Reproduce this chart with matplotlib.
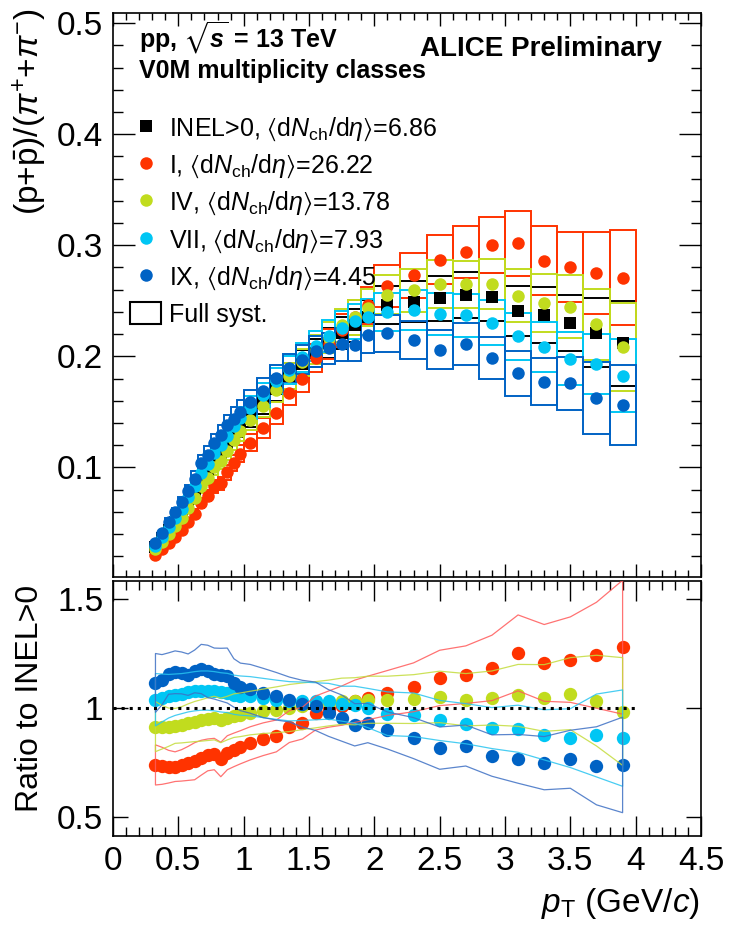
import numpy as np
import matplotlib
matplotlib.use('Agg')
import matplotlib.pyplot as plt
from matplotlib.patches import Rectangle
from matplotlib.ticker import MultipleLocator, NullLocator, FuncFormatter

plt.rcParams['font.family'] = ['Liberation Sans', 'DejaVu Sans']
plt.rcParams['mathtext.fontset'] = 'custom'
plt.rcParams['mathtext.rm'] = 'Liberation Sans'
plt.rcParams['mathtext.it'] = 'Liberation Sans:italic'
plt.rcParams['mathtext.bf'] = 'Liberation Sans:bold:italic'
plt.rcParams['mathtext.fallback'] = 'stixsans'

# pT binning (GeV/c)
pt_edges = np.array([0.30, 0.35, 0.40, 0.45, 0.50, 0.55, 0.60, 0.65, 0.70, 0.75,
                     0.80, 0.85, 0.90, 0.95, 1.00, 1.10, 1.20, 1.30, 1.40, 1.50,
                     1.60, 1.70, 1.80, 1.90, 2.00, 2.20, 2.40, 2.60, 2.80, 3.00,
                     3.20, 3.40, 3.60, 3.80, 4.00])

# (p+pbar)/(pi+ + pi-) for INEL>0
inel = [0.0285, 0.036, 0.0435, 0.051, 0.059, 0.068, 0.077, 0.088, 0.095, 0.105,
        0.112, 0.120, 0.129, 0.137, 0.146, 0.158, 0.171, 0.182, 0.193, 0.203,
        0.212, 0.221, 0.228, 0.235, 0.2462, 0.2492, 0.2523, 0.2552, 0.2537, 0.2408,
        0.2372, 0.2297, 0.2213, 0.2117]

# ratios to INEL>0 per V0M class
ratio_I = [0.739, 0.735, 0.731, 0.731, 0.737, 0.746, 0.756, 0.772, 0.785, 0.789,
           0.764, 0.795, 0.808, 0.820, 0.838, 0.857, 0.872, 0.915, 0.931, 0.977,
           0.995, 1.011, 1.031, 1.046, 1.069, 1.095, 1.138, 1.153, 1.184, 1.253,
           1.207, 1.222, 1.242, 1.279]
ratio_IV = [0.915, 0.912, 0.912, 0.918, 0.923, 0.931, 0.938, 0.943, 0.949, 0.954,
            0.943, 0.954, 0.965, 0.969, 0.977, 0.985, 0.992, 1.000, 1.008, 1.015,
            1.023, 1.031, 1.031, 1.038, 1.038, 1.041, 1.051, 1.038, 1.046, 1.058,
            1.046, 1.066, 1.034, 0.984]
ratio_VII = [1.038, 1.046, 1.054, 1.061, 1.066, 1.072, 1.077, 1.080, 1.080, 1.077,
             1.072, 1.069, 1.061, 1.057, 1.054, 1.046, 1.038, 1.031, 1.031, 1.031,
             1.031, 1.020, 1.015, 1.000, 0.974, 0.969, 0.943, 0.928, 0.908, 0.905,
             0.877, 0.862, 0.874, 0.862]
ratio_IX = [1.115, 1.130, 1.158, 1.164, 1.161, 1.153, 1.168, 1.179, 1.168, 1.158,
            1.153, 1.149, 1.115, 1.097, 1.088, 1.069, 1.054, 1.039, 1.020, 1.008,
            0.977, 0.954, 0.923, 0.931, 0.897, 0.862, 0.816, 0.828, 0.782, 0.767,
            0.747, 0.765, 0.735, 0.739]

# relative full systematics of the ratios (boxes, top panel)
sys_inel = [0.075, 0.072, 0.07, 0.07, 0.07, 0.07, 0.07, 0.07, 0.07, 0.07,
            0.07, 0.07, 0.068, 0.068, 0.066, 0.065, 0.065, 0.064, 0.064, 0.064,
            0.064, 0.065, 0.065, 0.066, 0.07, 0.075, 0.08, 0.08, 0.085, 0.095,
            0.105, 0.11, 0.14, 0.18]
sys_I = [0.075, 0.072, 0.07, 0.07, 0.07, 0.07, 0.07, 0.07, 0.07, 0.07,
         0.07, 0.07, 0.068, 0.068, 0.066, 0.065, 0.065, 0.064, 0.064, 0.064,
         0.065, 0.066, 0.067, 0.068, 0.072, 0.075, 0.078, 0.08, 0.085, 0.098,
         0.107, 0.112, 0.135, 0.158]
sys_IV = [0.075, 0.072, 0.07, 0.07, 0.07, 0.07, 0.07, 0.07, 0.07, 0.07,
          0.07, 0.07, 0.068, 0.068, 0.066, 0.065, 0.065, 0.064, 0.064, 0.064,
          0.065, 0.066, 0.067, 0.068, 0.07, 0.075, 0.08, 0.08, 0.085, 0.095,
          0.105, 0.115, 0.14, 0.19]
sys_VII = [0.075, 0.072, 0.07, 0.07, 0.07, 0.07, 0.07, 0.07, 0.07, 0.07,
           0.07, 0.07, 0.068, 0.068, 0.066, 0.065, 0.065, 0.065, 0.065, 0.065,
           0.066, 0.067, 0.068, 0.069, 0.07, 0.075, 0.08, 0.082, 0.088, 0.098,
           0.108, 0.12, 0.14, 0.18]
sys_IX = [0.08, 0.077, 0.075, 0.075, 0.075, 0.075, 0.075, 0.075, 0.072, 0.072,
          0.072, 0.07, 0.07, 0.07, 0.068, 0.067, 0.067, 0.067, 0.067, 0.068,
          0.069, 0.07, 0.071, 0.072, 0.075, 0.08, 0.085, 0.09, 0.095, 0.11,
          0.12, 0.135, 0.20, 0.23]

# half widths of the ratio uncertainty bands (bottom panel)
band_I = [0.092, 0.085, 0.075, 0.068, 0.072, 0.078, 0.085, 0.08, 0.073, 0.072,
          0.079, 0.078, 0.077, 0.076, 0.076, 0.075, 0.073, 0.073, 0.073, 0.078,
          0.083, 0.09, 0.097, 0.1, 0.103, 0.112, 0.127, 0.132, 0.15, 0.174,
          0.176, 0.196, 0.243, 0.307]
band_IV = [0.115, 0.1, 0.088, 0.08, 0.083, 0.088, 0.092, 0.095, 0.098, 0.1,
           0.102, 0.1, 0.1, 0.1, 0.1, 0.102, 0.105, 0.108, 0.107, 0.106,
           0.105, 0.106, 0.108, 0.108, 0.108, 0.112, 0.118, 0.12, 0.124, 0.142,
           0.153, 0.165, 0.208, 0.247]
band_VII = [0.12, 0.11, 0.1, 0.095, 0.092, 0.09, 0.09, 0.09, 0.09, 0.09,
            0.09, 0.09, 0.09, 0.09, 0.09, 0.09, 0.09, 0.09, 0.088, 0.085,
            0.082, 0.08, 0.085, 0.09, 0.1, 0.1, 0.092, 0.092, 0.094, 0.108,
            0.115, 0.135, 0.19, 0.221]
band_IX = [0.135, 0.115, 0.095, 0.098, 0.096, 0.095, 0.098, 0.113, 0.12, 0.117,
           0.121, 0.126, 0.111, 0.109, 0.112, 0.113, 0.109, 0.103, 0.107, 0.111,
           0.107, 0.106, 0.097, 0.09, 0.085, 0.094, 0.097, 0.094, 0.095, 0.112,
           0.122, 0.133, 0.179, 0.219]

labels = ['INEL>0, $\u27e8$d$N_{\\rm ch}$/d$\\eta\u27e9$=6.86',
          'I, $\u27e8$d$N_{\\rm ch}$/d$\\eta\u27e9$=26.22',
          'IV, $\u27e8$d$N_{\\rm ch}$/d$\\eta\u27e9$=13.78',
          'VII, $\u27e8$d$N_{\\rm ch}$/d$\\eta\u27e9$=7.93',
          'IX, $\u27e8$d$N_{\\rm ch}$/d$\\eta\u27e9$=4.45']
colors = ['#ff3300', '#c1dc1e', '#00c6f4', '#0062c4']
band_colors = ['#ff5a5a', '#c4dc3c', '#28c4f0', '#3e70c4']

W, H = 730, 936
pt = 0.5 * (pt_edges[1:] + pt_edges[:-1])
pt_w = np.diff(pt_edges)
inel = np.array(inel)
classes = [(ratio_I, sys_I, band_I), (ratio_IV, sys_IV, band_IV),
           (ratio_VII, sys_VII, band_VII), (ratio_IX, sys_IX, band_IX)]

fig = plt.figure(figsize=(W / 100, H / 100), dpi=100)
ax1 = fig.add_axes([113 / W, 1 - 576.7 / H, 588 / W, 564 / H])
ax2 = fig.add_axes([113 / W, 1 - 836 / H, 588 / W, 255.3 / H])

# ======================= top panel
handles = []
s_inel = np.array(sys_inel)
ax1.bar(pt, 2 * inel * s_inel, bottom=inel * (1 - s_inel), width=pt_w,
        fill=False, edgecolor='black', linewidth=1.4, zorder=2)
h, = ax1.plot(pt, inel, 's', ms=8.5, mew=0, color='black', zorder=3, label=labels[0])
handles.append(h)
for (r, s, b), c, lab in zip(classes, colors, labels[1:]):
    vals = inel * np.array(r)
    s = np.array(s)
    ax1.bar(pt, 2 * vals * s, bottom=vals * (1 - s), width=pt_w,
            fill=False, edgecolor=c, linewidth=1.4, zorder=2)
    h, = ax1.plot(pt, vals, 'o', ms=9, mew=0, color=c, zorder=3, label=lab)
    handles.append(h)

box = Rectangle((0, 0), 1, 1, fill=False, edgecolor='black', linewidth=1.5)
handles.append(box)
leg = ax1.legend(handles, labels + ['Full syst.'], loc='upper left',
                 bbox_to_anchor=(0.029, 0.818), frameon=False, fontsize=18,
                 handlelength=1.24, handleheight=1.0, handletextpad=0.32,
                 labelspacing=0.4, borderpad=0, borderaxespad=0, numpoints=1)

ax1.set_xlim(0, 4.5)
ax1.set_ylim(0.0015, 0.5095)

# ======================= ratio panel
ax2.plot([0, pt_edges[-1]], [1, 1], ':', color='black', lw=2.2, zorder=6)
for (r, s, b), c, bc in zip(classes, colors, band_colors):
    r = np.array(r)
    b = np.array(b)
    ax2.plot(pt, r, 'o', ms=9.6, mew=0, color=c, zorder=3)
    ax2.fill_between(pt, r - b, r + b, facecolor='none', edgecolor=bc,
                     linewidth=0.9, alpha=0.85, zorder=4)
ax2.set_xlim(0, 4.5)
ax2.set_ylim(0.413, 1.584)

# ======================= axes styling
fmt = FuncFormatter(lambda v, p: '%g' % v)
for ax in (ax1, ax2):
    ax.xaxis.set_major_locator(MultipleLocator(0.5))
    ax.xaxis.set_minor_locator(MultipleLocator(0.1))
    ax.xaxis.set_major_formatter(fmt)
    ax.yaxis.set_major_formatter(fmt)
    ax.tick_params(which='both', direction='in', top=True, right=True,
                   width=1.0, labelsize=24, pad=7)
    for sp in ax.spines.values():
        sp.set_linewidth(1.2)
ax1.yaxis.set_major_locator(MultipleLocator(0.1))
ax1.yaxis.set_minor_locator(MultipleLocator(0.02))
ax2.yaxis.set_major_locator(MultipleLocator(0.5))
ax2.yaxis.set_minor_locator(NullLocator())
ax1.tick_params(axis='x', which='major', length=9.5, labelbottom=False)
ax1.tick_params(axis='x', which='minor', length=5)
ax1.tick_params(axis='y', which='major', length=16)
ax1.tick_params(axis='y', which='minor', length=7.5)
ax2.tick_params(axis='x', which='major', length=14.5)
ax2.tick_params(axis='x', which='minor', length=6.5)
ax2.tick_params(axis='y', which='major', length=11)

# ======================= labels
fig.text(30 / W, 1 - 8 / H, '(p+$\\bar{\\mathrm{p}}$)/($\\pi^{+}$+$\\pi^{-}$)',
         rotation=90, ha='center', va='top', fontsize=24)
fig.text(30 / W, 1 - 585 / H, 'Ratio to INEL>0', rotation=90, ha='center',
         va='top', fontsize=23)
fig.text(700 / W, 1 - 912 / H, '$p_{\\mathrm{T}}$ (GeV/$c$)', ha='right',
         va='baseline', fontsize=24)
fig.text(139 / W, 1 - 48 / H, 'pp, $\\sqrt{\\mathbf{s}}$ = 13 TeV', ha='left',
         va='baseline', fontsize=18, fontweight='bold')
fig.text(139 / W, 1 - 78 / H, 'V0M multiplicity classes', ha='left',
         va='baseline', fontsize=18, fontweight='bold')
fig.text(662 / W, 1 - 56 / H, 'ALICE Preliminary', ha='right',
         va='baseline', fontsize=20, fontweight='bold')

fig.savefig('out.png', dpi=100)
